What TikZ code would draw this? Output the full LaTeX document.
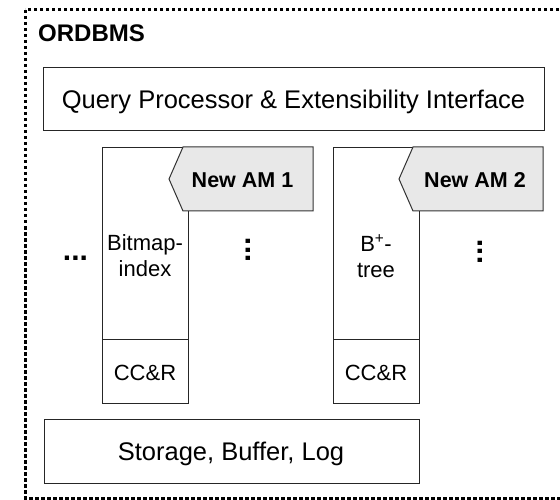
\documentclass[tikz,border=0pt]{standalone}
\usepackage{fontspec}
\setmainfont{Liberation Sans}
\begin{document}
\begin{tikzpicture}[x=1pt,y=-1pt,
  box/.style={draw=black!85, line width=1pt, inner sep=0pt, anchor=north west},
  amlabel/.style={draw=black!80, line width=1pt, fill=black!9, line join=miter},
  bigtxt/.style={font=\fontsize{25.5}{30}\selectfont, inner sep=0pt},
  coltxt/.style={font=\fontsize{22}{26}\selectfont, inner sep=0pt, align=center},
  amtxt/.style={font=\bfseries\fontsize{21.5}{26}\selectfont, inner sep=0pt},
  dotstxt/.style={font=\bfseries\fontsize{30}{34}\selectfont, inner sep=0pt}]
\useasboundingbox (0,0) rectangle (560,500);
\clip (0,0) rectangle (560,500);
\fill[white] (0,0) rectangle (560,500);
% outer dotted frame
\draw[line width=3pt, dash pattern=on 3.5pt off 2.5pt] (25,10) rectangle (575,498);
\node[font=\bfseries\fontsize{24}{28}\selectfont, inner sep=0pt, anchor=base west] (title) at (38,42) {ORDBMS};
% query processor
\node[box, minimum width=501pt, minimum height=63pt] (qp) at (43,67) {};
\node[bigtxt, anchor=base] (qptxt) at (293.5,109) {Query Processor \& Extensibility Interface};
% column 1
\node[box, minimum width=86pt, minimum height=192pt] (col1) at (102,147) {};
\node[box, minimum width=86pt, minimum height=64pt] (cc1) at (102,339) {};
\node[coltxt, anchor=base] (cc1txt) at (145,380.5) {CC\&R};
\node[coltxt] (bm) at (145,256) {Bitmap-\\index};
\draw[amlabel] (183,147) -- (313,147) -- (313,211) -- (183,211) -- (169,179) -- cycle;
\node[amtxt, anchor=base] (am1) at (242.5,188) {New AM 1};
% column 2
\node[box, minimum width=86pt, minimum height=192pt] (col2) at (333,147) {};
\node[box, minimum width=86pt, minimum height=64pt] (cc2) at (333,339) {};
\node[coltxt, anchor=base] (cc2txt) at (376,380.5) {CC\&R};
\node[coltxt] (bt) at (376,256) {B\textsuperscript{+}-\\tree};
\draw[amlabel] (413,147) -- (543,147) -- (543,211) -- (413,211) -- (399,179) -- cycle;
\node[amtxt, anchor=base] (am2) at (475,188) {New AM 2};
% dots
\node[dotstxt] (dots) at (75.5,258) {...};
\node[dotstxt, rotate=90] (col1dots) at (248.5,250) {...};
\node[dotstxt, rotate=90] (col2dots) at (480,251.5) {...};
% storage
\node[box, minimum width=375pt, minimum height=64pt] (st) at (44,419) {};
\node[bigtxt, anchor=base] (sttxt) at (231,460) {Storage, Buffer, Log};
\end{tikzpicture}
\end{document}
